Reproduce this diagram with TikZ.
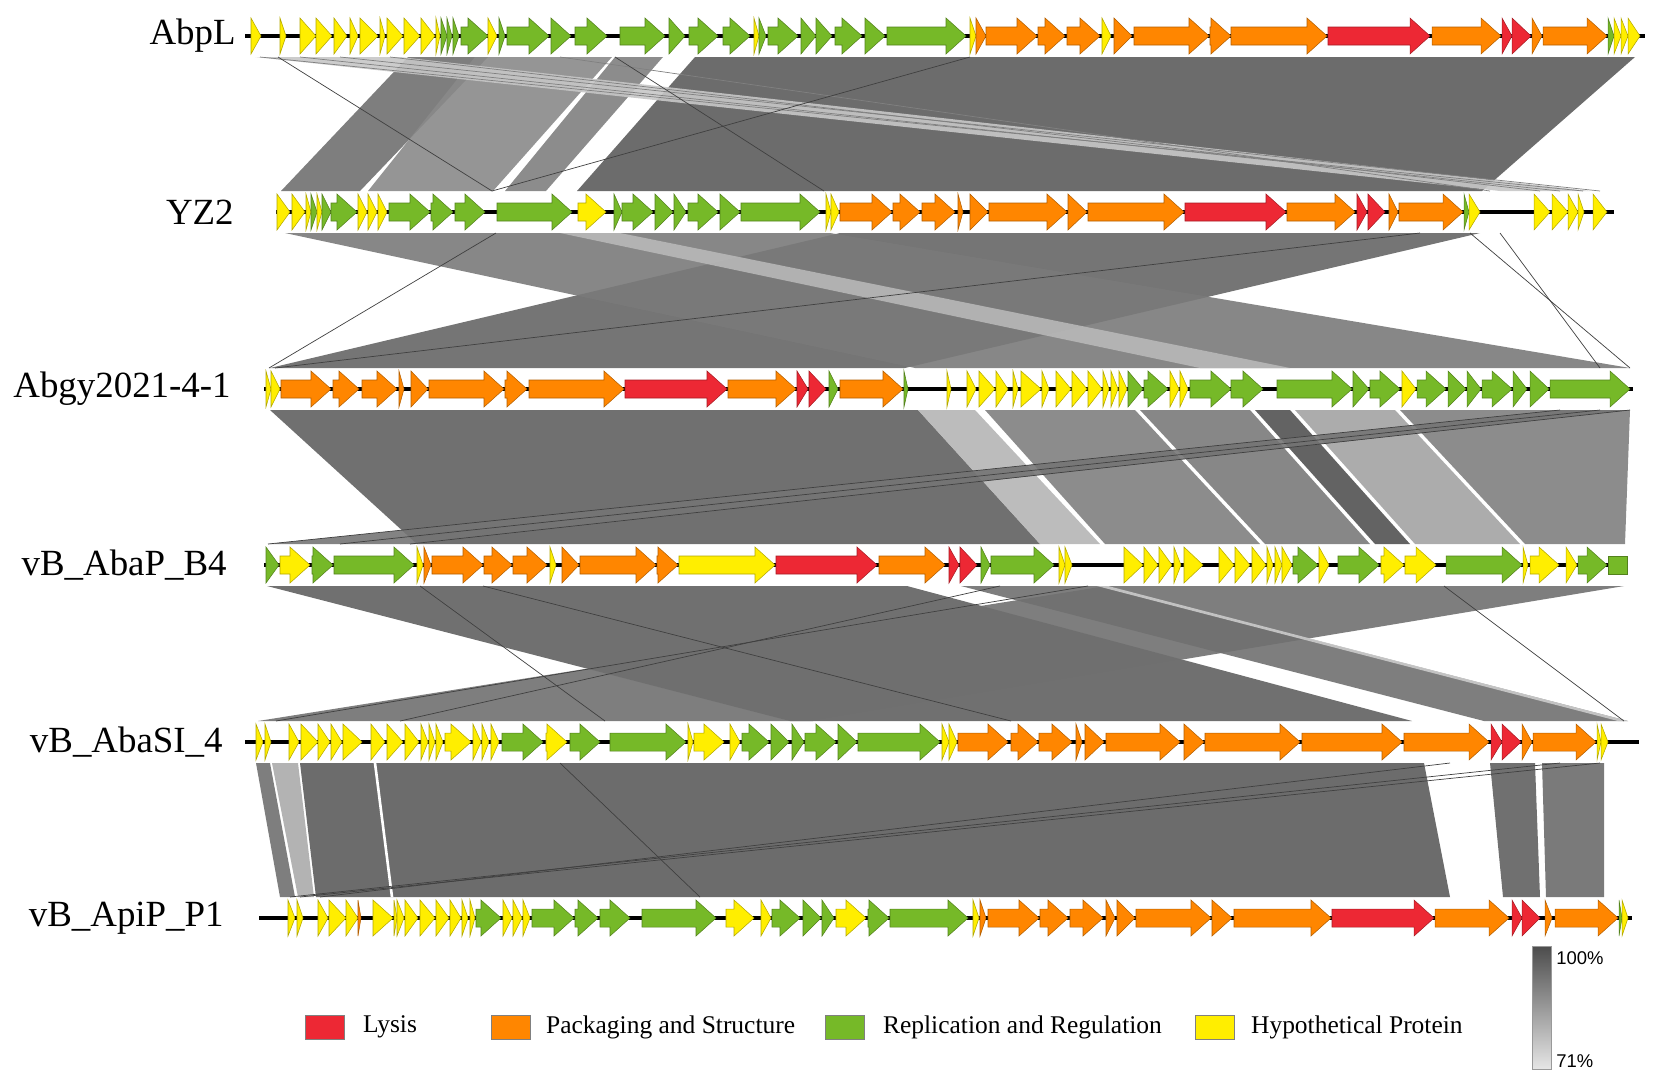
\documentclass[tikz,border=0pt]{standalone}
\usepackage{fontspec}
\setmainfont{Liberation Serif}
\setsansfont{Liberation Sans}
\usetikzlibrary{positioning}

\definecolor{ly}{RGB}{237,40,52}
\definecolor{pk}{RGB}{255,134,0}
\definecolor{rp}{RGB}{118,185,40}
\definecolor{hp}{RGB}{255,238,0}

% one track of genes: #1 = y of the backbone, #2 = list start/end/colour
\newcommand{\genes}[2]{%
  \foreach \a/\b/\c in {#2} {
    \pgfmathsetmacro{\m}{max(\a,\b-20)}
    \draw[gene=\c] (\a,#1-9) -- (\m,#1-9) -- (\m,#1-18) -- (\b,#1)
      -- (\m,#1+18) -- (\m,#1+9) -- (\a,#1+9) -- cycle;
  }}
% shaded blocks between two tracks: #1 = top y, #2 = bottom y
\newcommand{\ribbons}[3]{%
  \foreach \a/\b/\c/\d/\k in {#3} {
    \fill[ribbon, black!\k] (\a,#1) -- (\b,#1) -- (\d,#2) -- (\c,#2) -- cycle;
  }}

\begin{document}
\begin{tikzpicture}
        [x=0.02cm, y=-0.02cm,
         gene/.style={fill=#1, draw=#1!70!black, line width=0.3pt},
         backbone/.style={line width=2.8pt},
         ribbon/.style={fill opacity=0.9},
         link/.style={black!75, line width=0.4pt},
         phage/.style={anchor=east, inner sep=0pt, font=\fontsize{21}{25}\selectfont},
         legbox/.style={draw=black!50, line width=0.3pt, minimum width=0.78cm, minimum height=0.48cm, inner sep=0pt},
         legtext/.style={inner sep=0pt, font=\fontsize{14.5}{17}\selectfont},
         pct/.style={anchor=west, inner sep=0pt, font=\sffamily\fontsize{10.5}{12}\selectfont}]
        \useasboundingbox (0,0) rectangle (1654,1083);

        % AbpL -> YZ2
        \ribbons{57}{191}{408/488/281/360/56, 475/612/368/493/46, 615/663/505/546/50,
          695/1635/577/1482/64, 255/400/1500/1590/22}
        \foreach \a/\b in {260/1583, 300/1560, 340/1600, 390/1540, 560/1490}
          \draw[link, black!50] (\a,57) -- (\b,191);
        \foreach \a/\b in {278/492, 615/824, 970/492}
          \draw[link] (\a,57) -- (\b,191);

        % YZ2 -> Abgy2021-4-1
        \ribbons{233}{368}{840/1480/270/905/60, 285/830/915/1630/52, 560/620/1200/1290/28}
        \foreach \a/\b in {496/269, 1420/275, 1470/1630, 1500/1600}
          \draw[link] (\a,233) -- (\b,368);

        % Abgy2021-4-1 -> vB_AbaP_B4
        \ribbons{410}{544}{270/918/417/1040/62, 918/975/1040/1100/29, 985/1135/1105/1260/50,
          1140/1250/1265/1370/52, 1255/1290/1375/1410/68, 1295/1395/1415/1520/36,
          1400/1630/1525/1625/50, 1560/1630/268/415/54}
        \foreach \a/\b in {1560/268, 1600/340, 1630/410}
          \draw[link] (\a,410) -- (\b,544);

        % vB_AbaP_B4 -> vB_AbaSI_4
        \ribbons{586}{721}{267/907/790/1412/62, 961/1106/1484/1628/56, 1106/1624/258/813/56,
          1097/1108/1618/1628/20}
        \foreach \a/\b in {420/605, 483/1011, 1444/1624, 1088/276, 1000/400}
          \draw[link] (\a,586) -- (\b,721);

        % vB_AbaSI_4 -> vB_ApiP_P1
        \ribbons{763}{897}{300/1424/316/1450/64, 256/270/280/295/56, 272/298/298/314/33,
          1490/1535/1503/1540/62, 1542/1604/1546/1604/58}
        \draw[white, line width=1.5pt] (375,763) -- (392,897);
        \foreach \a/\b in {1600/300, 1560/290, 560/700, 1450/320}
          \draw[link] (\a,763) -- (\b,897);

        % backbones
        \draw[backbone] (245,36) -- (1645,36);
        \draw[backbone] (276,212) -- (1614,212);
        \draw[backbone] (264,389) -- (1633,389);
        \draw[backbone] (264,565) -- (1627,565);
        \draw[backbone] (245,742) -- (1639,742);
        \draw[backbone] (259,918) -- (1632,918);

        % genes
        \genes{36}{251/261/hp, 280/286/hp, 300/316/hp, 316/332/hp, 334/347/hp, 350/358/hp,
          360/378/hp, 380/385/hp, 387/403/hp, 404/420/hp, 421/435/hp, 436/440/hp, 441/447/rp,
          447/452/rp, 453/459/rp, 461/488/rp, 488/497/hp, 499/505/rp, 507/549/rp, 551/571/rp,
          575/607/rp, 620/665/rp, 669/685/rp, 689/718/rp, 723/750/rp, 754/759/hp, 759/766/rp,
          768/798/rp, 801/816/rp, 816/832/rp, 835/862/rp, 865/885/rp, 887/966/rp, 970/976/hp,
          976/986/pk, 986/1037/pk, 1038/1065/pk, 1067/1100/pk, 1102/1111/hp, 1114/1132/pk,
          1134/1209/pk, 1210/1231/pk, 1231/1327/pk, 1328/1430/ly, 1432/1501/pk, 1502/1512/ly,
          1512/1531/ly, 1532/1542/pk, 1543/1607/pk, 1608/1614/rp, 1614/1621/hp, 1621/1628/hp,
          1628/1640/hp}
        \genes{212}{277/290/hp, 292/305/hp, 306/311/hp, 311/317/rp, 317/322/hp, 322/331/rp,
          331/357/rp, 358/367/hp, 368/377/hp, 378/387/hp, 389/430/rp, 431/453/rp, 455/485/rp,
          497/572/rp, 578/606/hp, 614/622/rp, 622/653/rp, 655/673/rp, 674/686/rp, 688/718/rp,
          720/740/rp, 741/820/rp, 826/831/hp, 831/839/hp, 840/892/pk, 893/920/pk, 922/955/pk,
          958/963/pk, 970/988/pk, 989/1067/pk, 1068/1087/pk, 1088/1184/pk, 1185/1286/ly,
          1287/1355/pk, 1357/1367/ly, 1368/1385/ly, 1389/1398/pk, 1399/1463/pk, 1464/1469/rp,
          1469/1480/hp, 1534/1550/hp, 1552/1568/hp, 1568/1578/hp, 1578/1584/hp, 1593/1607/hp}
        \genes{389}{266/271/hp, 271/280/hp, 281/331/pk, 333/359/pk, 362/397/pk, 399/404/pk,
          411/428/pk, 429/504/pk, 505/527/pk, 529/624/pk, 625/727/ly, 728/796/pk, 797/808/ly,
          809/826/ly, 829/838/rp, 840/903/pk, 904/908/rp, 947/951/hp, 967/976/hp, 979/995/hp,
          996/1008/hp, 1013/1018/hp, 1021/1041/hp, 1042/1049/hp, 1056/1071/hp, 1072/1087/hp,
          1088/1102/hp, 1103/1109/hp, 1111/1118/hp, 1119/1127/hp, 1128/1143/rp, 1144/1168/rp,
          1170/1179/hp, 1180/1188/hp, 1190/1231/rp, 1231/1263/rp, 1277/1352/rp, 1353/1369/rp,
          1370/1400/rp, 1402/1416/hp, 1417/1446/rp, 1448/1466/rp, 1467/1481/rp, 1482/1512/rp,
          1513/1527/rp, 1530/1549/rp, 1550/1630/rp}
        \genes{565}{266/279/rp, 280/310/hp, 312/333/rp, 334/414/rp, 417/423/hp, 424/431/pk,
          432/483/pk, 484/512/pk, 513/547/pk, 550/556/hp, 562/579/pk, 580/656/pk, 657/678/pk,
          679/775/hp, 776/877/ly, 879/945/pk, 949/959/ly, 960/977/ly, 981/990/rp, 991/1054/rp,
          1059/1065/hp, 1065/1072/hp, 1124/1143/hp, 1144/1158/hp, 1159/1172/hp, 1174/1181/hp,
          1184/1203/hp, 1219/1234/hp, 1235/1250/hp, 1252/1266/hp, 1267/1273/hp, 1275/1282/hp,
          1282/1292/hp, 1293/1318/rp, 1319/1329/hp, 1338/1379/rp, 1381/1404/hp, 1405/1436/hp,
          1446/1522/rp, 1523/1528/hp, 1530/1559/hp, 1566/1577/hp, 1578/1607/rp}
        \draw[gene=rp] (1608,556) rectangle (1627,574);
        \genes{742}{256/263/hp, 265/271/hp, 289/299/hp, 301/318/hp, 318/330/hp, 331/342/hp,
          343/362/hp, 371/385/hp, 387/403/hp, 405/419/hp, 421/428/hp, 429/435/hp, 436/443/hp,
          445/471/hp, 473/481/hp, 482/489/hp, 491/499/hp, 502/543/rp, 546/567/hp, 570/600/rp,
          610/686/rp, 688/693/hp, 694/724/hp, 730/740/hp, 742/769/rp, 771/789/rp, 792/804/rp,
          805/836/rp, 838/857/rp, 858/940/rp, 942/949/hp, 949/957/hp, 958/1008/pk, 1011/1038/pk,
          1039/1072/pk, 1076/1082/pk, 1085/1104/pk, 1106/1180/pk, 1184/1204/pk, 1205/1300/pk,
          1302/1402/pk, 1404/1489/pk, 1491/1502/ly, 1502/1521/ly, 1522/1532/pk, 1533/1596/pk,
          1597/1601/hp, 1601/1608/hp}
        \genes{918}{288/295/hp, 297/303/hp, 318/328/hp, 329/346/hp, 346/358/hp, 358/361/pk,
          373/393/hp, 394/397/hp, 397/404/hp, 405/418/hp, 420/435/hp, 436/449/hp, 450/461/hp,
          462/468/hp, 470/475/hp, 476/501/rp, 503/512/hp, 513/522/hp, 523/530/hp, 532/574/rp,
          575/598/rp, 600/630/rp, 642/716/rp, 726/754/hp, 761/771/hp, 772/800/rp, 803/821/rp,
          822/834/rp, 836/866/hp, 868/889/rp, 890/968/rp, 973/979/hp, 980/986/pk, 988/1039/pk,
          1040/1068/pk, 1070/1103/pk, 1106/1115/pk, 1117/1135/pk, 1136/1211/pk, 1212/1232/pk,
          1234/1331/pk, 1332/1434/ly, 1435/1509/pk, 1512/1522/ly, 1522/1540/ly, 1545/1552/pk,
          1555/1618/pk, 1619/1622/rp, 1622/1628/hp}

        % phage names
        \node[phage] (abpl) at (236,36) {AbpL};
        \node[phage] (yz2) at (234,212) {YZ2};
        \node[phage] (abgy) at (231,389) {Abgy2021-4-1};
        \node[phage] (b4) at (227,565) {vB\_AbaP\_B4};
        \node[phage] (si4) at (223,742) {vB\_AbaSI\_4};
        \node[phage] (p1) at (224,918) {vB\_ApiP\_P1};

        % legend
        \node[legbox, fill=ly] (lyb) at (325,1027) {};
        \node[legtext, right=0.36cm of lyb] (lyt) {Lysis};
        \node[legbox, fill=pk] (pkb) at (511,1027) {};
        \node[legtext, right=0.3cm of pkb] (pkt) {Packaging and Structure};
        \node[legbox, fill=rp] (rpb) at (845,1027) {};
        \node[legtext, right=0.36cm of rpb] (rpt) {Replication and Regulation};
        \node[legbox, fill=hp] (hpb) at (1215,1027) {};
        \node[legtext, right=0.32cm of hpb] (hpt) {Hypothetical Protein};

        % identity scale
        \shade[top color=black!70, bottom color=black!10, draw=black!40, line width=0.3pt]
          (1532,946) rectangle (1551,1069);
        \node[pct] (top) at (1556,958) {100\%};
        \node[pct] (bot) at (1556,1061) {71\%};
    \end{tikzpicture}
\end{document}
